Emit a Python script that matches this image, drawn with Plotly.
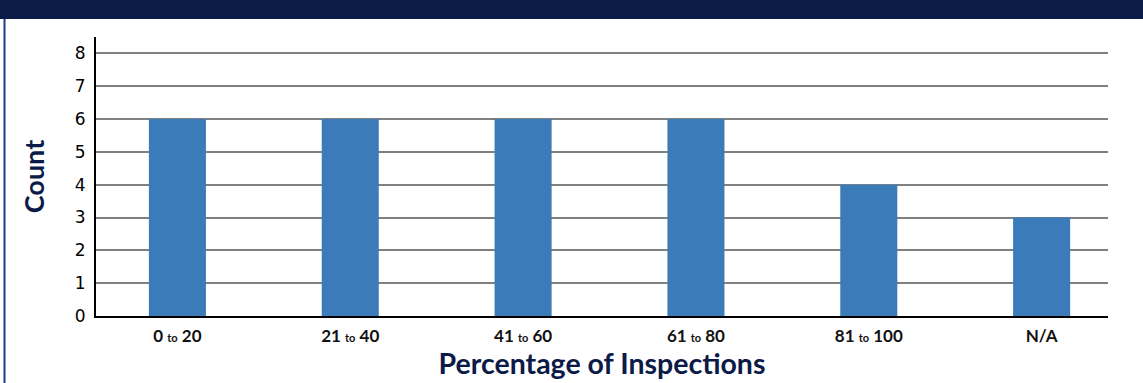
import plotly.graph_objects as go

categories = ["0 to 20", "21 to 40", "41 to 60", "61 to 80", "81 to 100", "N/A"]
counts = [6, 6, 6, 6, 4, 3]
tick_labels = [
    "0 <span style='font-size:11px'>to</span> 20",
    "21 <span style='font-size:11px'>to</span> 40",
    "41 <span style='font-size:11px'>to</span> 60",
    "61 <span style='font-size:11px'>to</span> 80",
    "81 <span style='font-size:11px'>to</span> 100",
    "N/A",
]
y_ticks = [0, 1, 2, 3, 4, 5, 6, 7, 8]

NAVY = "#0c1a48"
BAR = "#3b7bba"

fig = go.Figure()
fig.add_trace(go.Bar(
    x=list(range(len(categories))),
    y=counts,
    width=0.33,
    marker=dict(color=BAR, line=dict(width=0)),
    hovertext=categories,
))

fig.update_layout(
    width=1143, height=383,
    margin=dict(l=96, r=35, t=37, b=67),
    paper_bgcolor="white",
    plot_bgcolor="white",
    showlegend=False,
    font=dict(family="Lato, sans-serif", color="#111111"),
    xaxis=dict(
        range=[-0.471, 5.384],
        tickmode="array",
        tickvals=list(range(len(categories))),
        ticktext=tick_labels,
        tickfont=dict(size=17, family="Lato", color="#111111", weight="bold"),
        ticklabelstandoff=4,
        showgrid=False,
        zeroline=False,
        showline=True, linecolor="black", linewidth=2,
        ticks="",
        title=dict(text="<b>Percentage of Inspections</b>",
                   font=dict(size=28.5, family="Lato", color=NAVY),
                   standoff=5),
    ),
    yaxis=dict(
        range=[0, 8.5],
        tickmode="array",
        tickvals=y_ticks,
        ticktext=[str(v) for v in y_ticks],
        tickfont=dict(size=17, family="DejaVu Sans", color="#000000"),
        showgrid=True, gridcolor="#808080", gridwidth=1.5,
        zeroline=False,
        showline=True, linecolor="black", linewidth=2,
        ticks="",
        ticklabelstandoff=5,
        title=dict(text="<b>Count</b>",
                   font=dict(size=27, family="Lato", color=NAVY),
                   standoff=22),
    ),
    shapes=[
        dict(type="rect", xref="paper", yref="paper",
             x0=-96/1012, x1=1 + 35/1012, y0=1 + 18/279, y1=1 + 37/279,
             fillcolor=NAVY, line=dict(width=0), layer="above"),
        dict(type="line", xref="paper", yref="paper",
             x0=-91.5/1012, x1=-91.5/1012, y0=-67/279, y1=1 + 18/279,
             line=dict(color="#1f3a8a", width=2)),
    ],
)

fig.write_html("out.html")
